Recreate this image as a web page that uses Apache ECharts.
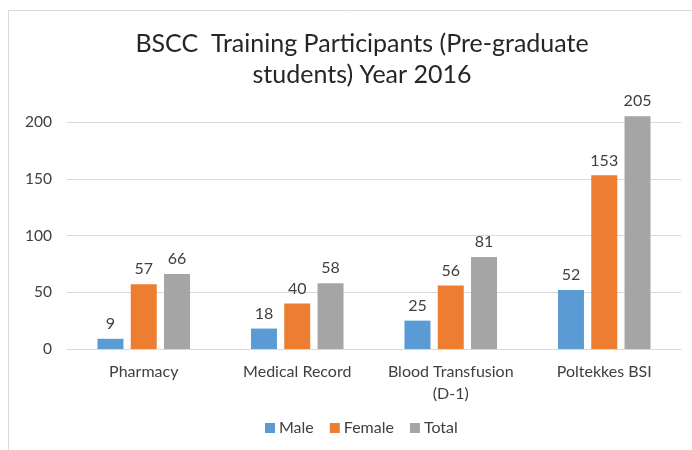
<!DOCTYPE html>
<html>
<head>
<meta charset="utf-8">
<script src="https://cdn.jsdelivr.net/npm/echarts@6/dist/echarts.min.js"></script>
<style>
  html, body { margin: 0; padding: 0; background: #fff; }
  #chart { width: 692px; height: 450px; }
</style>
</head>
<body>
<div id="chart"></div>
<script>
const categories = ["Pharmacy", "Medical Record", "Blood Transfusion\n(D-1)", "Poltekkes BSI"];
const maleValues = [9, 18, 25, 52];
const femaleValues = [57, 40, 56, 153];
const totalValues = [66, 58, 81, 205];
const yTicks = { min: 0, max: 200, interval: 50 };

const FONT = "Lato, 'Open Sans', sans-serif";

function barSeries(name, values, color) {
    return {
        name: name,
        type: "bar",
        data: values,
        barWidth: 26,
        barGap: "28%",
        clip: false,
        itemStyle: { color: color },
        label: {
            show: true,
            position: "top",
            distance: 7,
            color: "#404040",
            fontFamily: FONT,
            fontSize: 16
        }
    };
}

const chart = echarts.init(document.getElementById("chart"));
chart.setOption({
    animation: false,
    textStyle: { fontFamily: FONT },
    graphic: [{
        type: "rect",
        shape: { x: 8.5, y: 10.5, width: 700, height: 460 },
        style: { fill: "none", stroke: "#d9d9d9", lineWidth: 1 },
        silent: true
    }],
    title: {
        text: "BSCC  Training Participants (Pre-graduate\nstudents) Year 2016",
        left: 357,
        top: 23,
        textAlign: "center",
        textStyle: {
            fontFamily: FONT,
            fontWeight: "normal",
            fontSize: 25,
            lineHeight: 31,
            color: "#262626"
        }
    },
    legend: {
        bottom: 9,
        left: 260,
        itemWidth: 10,
        itemHeight: 10,
        itemGap: 16,
        icon: "rect",
        textStyle: { fontFamily: FONT, fontSize: 16, color: "#404040", padding: [0, 0, 0, -1] },
        data: ["Male", "Female", "Total"]
    },
    grid: { left: 67, right: 11, top: 122, bottom: 101 },
    xAxis: {
        type: "category",
        data: categories,
        axisTick: { show: false },
        axisLine: { lineStyle: { color: "#d9d9d9" } },
        axisLabel: {
            interval: 0,
            margin: 12,
            color: "#404040",
            fontFamily: FONT,
            fontSize: 16,
            lineHeight: 22
        }
    },
    yAxis: {
        type: "value",
        min: yTicks.min,
        max: yTicks.max,
        interval: yTicks.interval,
        axisLine: { show: false },
        axisTick: { show: false },
        splitLine: { lineStyle: { color: "#d9d9d9", width: 1 } },
        axisLabel: {
            margin: 15,
            color: "#404040",
            fontFamily: FONT,
            fontSize: 15.5
        }
    },
    series: [
        barSeries("Male", maleValues, "#5b9bd5"),
        barSeries("Female", femaleValues, "#ed7d31"),
        barSeries("Total", totalValues, "#a5a5a5")
    ]
});
</script>
</body>
</html>
